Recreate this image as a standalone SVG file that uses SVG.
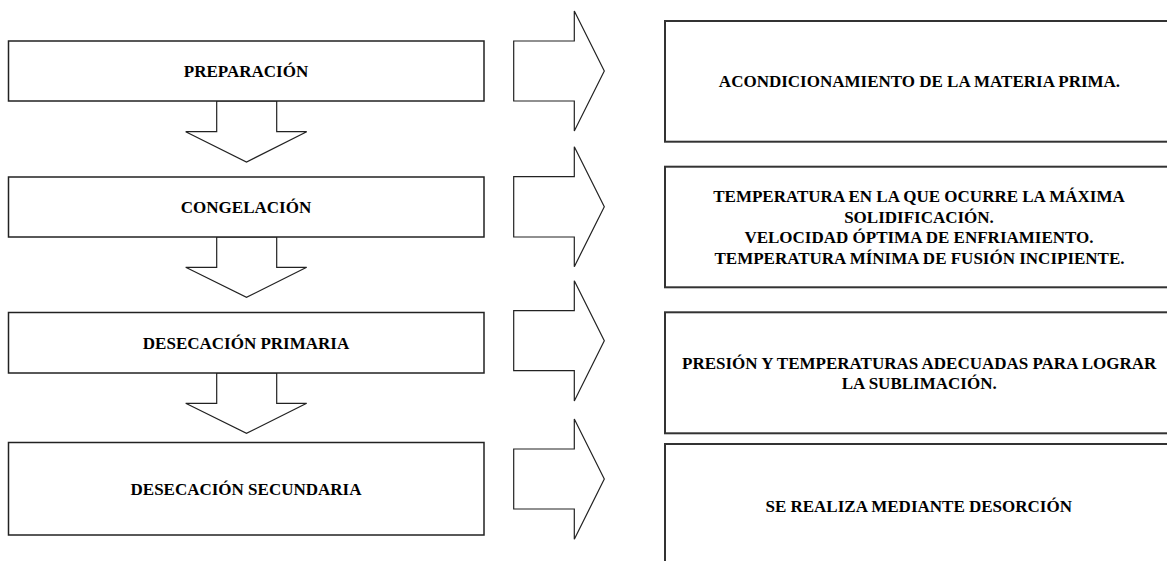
<svg xmlns="http://www.w3.org/2000/svg" width="1167" height="561" viewBox="0 0 1167 561">
<style>
.lbox{fill:#fff;stroke:#222;stroke-width:1.5}
.rbox{fill:#fff;stroke:#333;stroke-width:2}
.arr{fill:#fff;stroke:#222;stroke-width:1.2;stroke-linejoin:miter}
text{font-family:"Liberation Serif","Times New Roman",serif;font-weight:bold;font-size:17px;fill:#000;text-anchor:middle}
</style>
<rect width="1167" height="561" fill="#fff"/>
<g id="connectors">
<polygon class="arr" points="216.7,101 276.7,101 276.7,131.7 306.7,131.7 246.5,162 185.7,131.7 216.7,131.7"/>
<polygon class="arr" points="216.7,237 276.7,237 276.7,267.3 306.7,267.3 246.5,297.3 185.7,267.3 216.7,267.3"/>
<polygon class="arr" points="216.7,373 276.7,373 276.7,403.3 306.7,403.3 246.5,433.3 185.7,403.3 216.7,403.3"/>
<polygon class="arr" points="513.7,41 574.3,41 574.3,11 604.3,71 574.3,131 574.3,101 513.7,101"/>
<polygon class="arr" points="513.7,176.7 574.3,176.7 574.3,146.7 604.3,206.7 574.3,266.7 574.3,237 513.7,237"/>
<polygon class="arr" points="513.7,310.7 574.3,310.7 574.3,280.7 604.3,340.7 574.3,401 574.3,370.7 513.7,370.7"/>
<polygon class="arr" points="513.7,449 574.3,449 574.3,419 604.3,479 574.3,539.3 574.3,509 513.7,509"/>
</g>
<g id="n1"><rect class="lbox" x="8.5" y="41" width="475.5" height="60"/><text x="246" y="77">PREPARACIÓN</text></g>
<g id="n2"><rect class="lbox" x="8.5" y="177" width="475.5" height="60"/><text x="246" y="213">CONGELACIÓN</text></g>
<g id="n3"><rect class="lbox" x="8.5" y="312.5" width="475.5" height="60.5"/><text x="246" y="349">DESECACIÓN PRIMARIA</text></g>
<g id="n4"><rect class="lbox" x="8.5" y="442.5" width="475.5" height="92.5"/><text x="246" y="495">DESECACIÓN SECUNDARIA</text></g>
<g id="r1"><rect class="rbox" x="665" y="21" width="510" height="120.7"/><text x="919.5" y="87">ACONDICIONAMIENTO DE LA MATERIA PRIMA.</text></g>
<g id="r2"><rect class="rbox" x="665" y="166.7" width="510" height="120.6"/>
<text x="919" y="201.7">TEMPERATURA EN LA QUE OCURRE LA MÁXIMA</text>
<text x="919" y="222.5">SOLIDIFICACIÓN.</text>
<text x="919" y="243.3">VELOCIDAD ÓPTIMA DE ENFRIAMIENTO.</text>
<text x="919.5" y="264">TEMPERATURA MÍNIMA DE FUSIÓN INCIPIENTE.</text></g>
<g id="r3"><rect class="rbox" x="665" y="312.3" width="510" height="121"/>
<text x="919.2" y="369.3">PRESIÓN Y TEMPERATURAS ADECUADAS PARA LOGRAR</text>
<text x="919.2" y="389.3">LA SUBLIMACIÓN.</text></g>
<g id="r4"><rect class="rbox" x="665" y="444" width="510" height="130"/><text x="918.7" y="511.7">SE REALIZA MEDIANTE DESORCIÓN</text></g>
</svg>
